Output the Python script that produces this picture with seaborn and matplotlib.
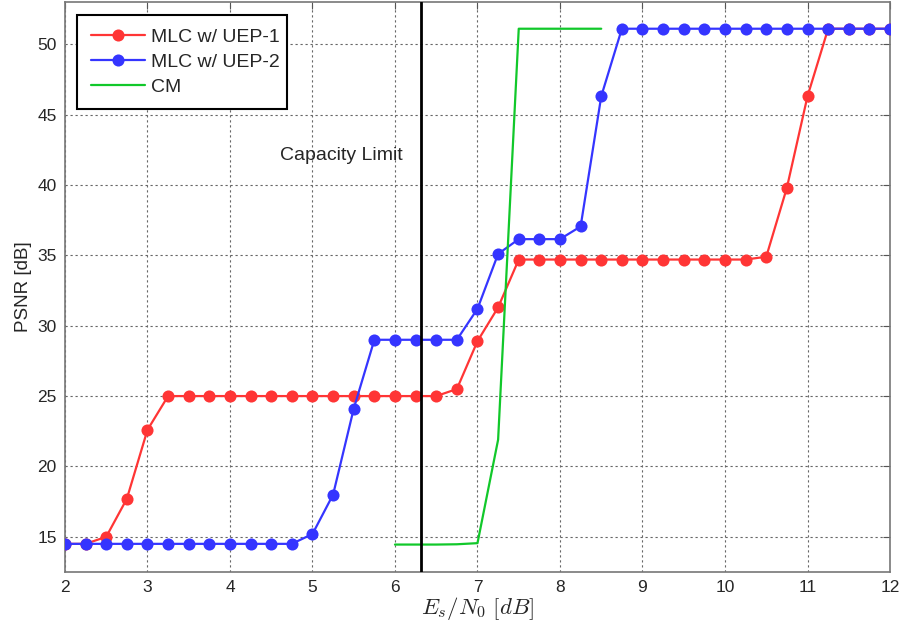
import numpy as np
import pandas as pd
import matplotlib
matplotlib.use("Agg")
import matplotlib.pyplot as plt
import seaborn as sns

# ---- data ----
x_mlc = [2.0, 2.25, 2.5, 2.75, 3.0, 3.25, 3.5, 3.75, 4.0, 4.25, 4.5, 4.75, 5.0, 5.25,
         5.5, 5.75, 6.0, 6.25, 6.5, 6.75, 7.0, 7.25, 7.5, 7.75, 8.0, 8.25, 8.5, 8.75,
         9.0, 9.25, 9.5, 9.75, 10.0, 10.25, 10.5, 10.75, 11.0, 11.25, 11.5, 11.75, 12.0]
uep1 = [14.5, 14.5, 15.0, 17.7, 22.6, 25.0, 25.0, 25.0, 25.0, 25.0, 25.0, 25.0, 25.0, 25.0,
        25.0, 25.0, 25.0, 25.0, 25.0, 25.5, 28.9, 31.3, 34.7, 34.7, 34.7, 34.7, 34.7, 34.7,
        34.7, 34.7, 34.7, 34.7, 34.7, 34.7, 34.9, 39.8, 46.3, 51.1, 51.1, 51.1, 51.1]
uep2 = [14.5, 14.5, 14.5, 14.5, 14.5, 14.5, 14.5, 14.5, 14.5, 14.5, 14.5, 14.5, 15.2, 18.0,
        24.1, 29.0, 29.0, 29.0, 29.0, 29.0, 31.2, 35.1, 36.15, 36.15, 36.15, 37.05, 46.3, 51.1,
        51.1, 51.1, 51.1, 51.1, 51.1, 51.1, 51.1, 51.1, 51.1, 51.1, 51.1, 51.1, 51.1]
x_cm = [6.0, 6.25, 6.5, 6.75, 7.0, 7.25, 7.5, 7.75, 8.0, 8.25, 8.5]
cm = [14.45, 14.45, 14.45, 14.47, 14.55, 21.9, 51.1, 51.1, 51.1, 51.1, 51.1]
capacity_limit = 6.32
labels = ["MLC w/ UEP-1", "MLC w/ UEP-2", "CM"]

# ---- style ----
sns.set_style("white")
plt.rcParams["font.family"] = ["Liberation Sans", "DejaVu Sans"]
plt.rcParams["mathtext.fontset"] = "cm"

fig = plt.figure(figsize=(9.01, 6.21), dpi=100)
ax = fig.add_axes([0.0721, 0.0789, 0.9157, 0.9179])

df1 = pd.DataFrame({"x": x_mlc, "y": uep1})
df2 = pd.DataFrame({"x": x_mlc, "y": uep2})
df3 = pd.DataFrame({"x": x_cm, "y": cm})

red = "#ff3535"
blue = "#3535ff"
green = "#11c82a"

sns.lineplot(data=df1, x="x", y="y", ax=ax, color=red, lw=1.6, marker="o",
             markersize=8.7, markeredgewidth=0, label=labels[0], zorder=3)
sns.lineplot(data=df2, x="x", y="y", ax=ax, color=blue, lw=1.6, marker="o",
             markersize=8.7, markeredgewidth=0, label=labels[1], zorder=4)
sns.lineplot(data=df3, x="x", y="y", ax=ax, color=green, lw=1.6, label=labels[2], zorder=5)

ax.axvline(capacity_limit, color="black", lw=2, zorder=6)
ax.text(6.1, 42.1, "Capacity Limit", fontsize=14, ha="right", va="center")

ax.set_xlim(2, 12)
ax.set_ylim(12.5, 53)
ax.set_xticks(np.arange(2, 13, 1))
ax.set_yticks(np.arange(15, 51, 5))
ax.tick_params(direction="in", length=5, width=0.8, color="#555555", labelsize=12.5,
               top=True, right=True, pad=6)
ax.grid(True, linestyle=(0, (2, 2.5)), color="#666666", lw=0.8)
for s in ax.spines.values():
    s.set_color("#777777")
    s.set_linewidth(1.2)

ax.set_xlabel(r"$E_s/N_0\ [dB]$", fontsize=16.5, labelpad=0)
ax.set_ylabel("PSNR [dB]", fontsize=13.5, labelpad=4)

leg = ax.legend(loc="upper left", bbox_to_anchor=(0.0145, 0.978, 0.2545, 0.0),
                mode="expand", borderaxespad=0, fontsize=14,
                frameon=True, fancybox=False, handlelength=2.8, borderpad=0.7,
                labelspacing=0.38, handletextpad=0.3)
leg.get_frame().set_edgecolor("black")
leg.get_frame().set_linewidth(1.5)
leg.get_frame().set_alpha(1)

fig.savefig("out.png", dpi=100)
